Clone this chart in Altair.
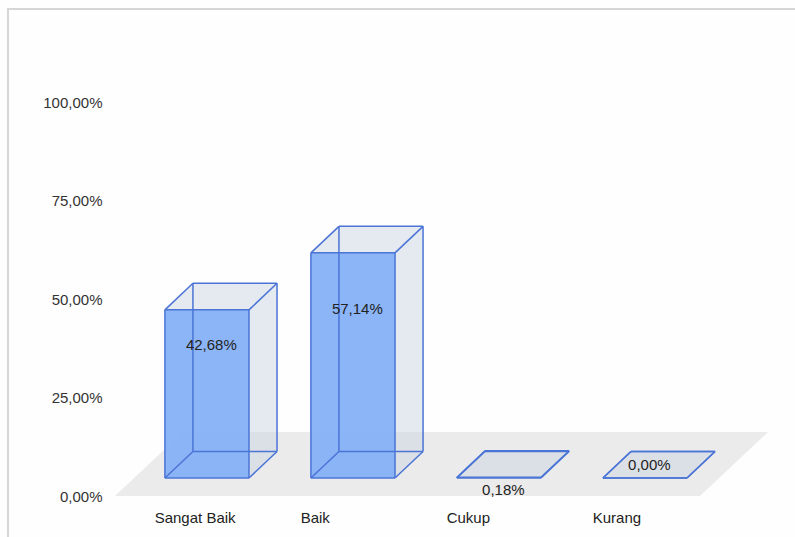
import altair as alt
import pandas as pd

# ---- data ----
categories = ["Sangat Baik", "Baik", "Cukup", "Kurang"]
values = [42.68, 57.14, 0.18, 0.00]
value_labels = ["42,68%", "57,14%", "0,18%", "0,00%"]
y_ticks = [0, 25, 50, 75, 100]

# ---- 3D styling geometry (category units / percent units) ----
HW = 0.288      # half width of a bar face
DX = 0.192      # depth offset in x
DY = 6.73       # depth offset in y
FLOOR_L, FLOOR_R = -0.63, 3.377
FLOOR_Y0, FLOOR_Y1 = -4.57, 11.68
FLOOR_DX = 0.466

idx = list(range(len(categories)))

front = pd.DataFrame({"cat": categories, "i": idx, "v": values})
front["L"] = front.i - HW
front["R"] = front.i + HW

top_rows, side_rows, edge_rows = [], [], []
for c, i, v in zip(categories, idx, values):
    L, R = i - HW, i + HW
    top_rows += [{"cat": c, "y": v, "xl": L, "xr": R},
                 {"cat": c, "y": v + DY, "xl": L + DX, "xr": R + DX}]
    side_rows += [{"cat": c, "x": R, "y0": 0, "y1": v},
                  {"cat": c, "x": R + DX, "y0": DY, "y1": v + DY}]
    corners = {
        "fbl": (L, 0), "fbr": (R, 0), "ftl": (L, v), "ftr": (R, v),
        "bbl": (L + DX, DY), "bbr": (R + DX, DY),
        "btl": (L + DX, v + DY), "btr": (R + DX, v + DY),
    }
    pairs = [("fbl", "fbr"), ("fbr", "ftr"), ("ftr", "ftl"), ("ftl", "fbl"),
             ("bbl", "bbr"), ("bbr", "btr"), ("btr", "btl"), ("btl", "bbl"),
             ("fbl", "bbl"), ("fbr", "bbr"), ("ftl", "btl"), ("ftr", "btr")]
    for a, b in pairs:
        edge_rows.append({"cat": c, "x": corners[a][0], "y": corners[a][1],
                          "x2": corners[b][0], "y2": corners[b][1]})

top = pd.DataFrame(top_rows)
side = pd.DataFrame(side_rows)
edges = pd.DataFrame(edge_rows)

floor = pd.DataFrame({
    "y": [FLOOR_Y0, FLOOR_Y1],
    "xl": [FLOOR_L, FLOOR_L + FLOOR_DX],
    "xr": [FLOOR_R, FLOOR_R + FLOOR_DX],
})


def label_y(v):
    if v > 1:
        return 0.629 * v + 6.96
    if v > 0:
        return -3.0
    return DY / 2


labels = pd.DataFrame({
    "i": [i + 0.03 for i in idx],
    "ly": [label_y(v) for v in values],
    "text": value_labels,
})
xlabels = pd.DataFrame({"x": [i - HW - 0.07 for i in idx], "text": categories})

FONT = "Liberation Sans"
xs = alt.Scale(domain=[-0.664, 3.959], nice=False, zero=False)
ys = alt.Scale(domain=[0, 100], nice=False, zero=False)
yaxis = alt.Axis(
    values=y_ticks,
    labelExpr="replace(format(datum.value, '.2f'), '.', ',') + '%'",
    ticks=False, domain=False, grid=False, title=None,
    labelPadding=8, labelOffset=18, labelFlush=False,
    labelFontSize=15, labelFont=FONT, labelColor="#333333",
    zindex=2,
)

frame = alt.Chart(pd.DataFrame({"a": [0]})).mark_rect(
    fillOpacity=0, stroke="#d6d6d6", strokeWidth=2
).encode(x=alt.value(-102), x2=alt.value(720), y=alt.value(-75), y2=alt.value(480))

floor_layer = alt.Chart(floor).mark_area(orient="horizontal", color="#ebebeb").encode(
    y=alt.Y("y:Q", scale=ys, axis=yaxis),
    x=alt.X("xl:Q", scale=xs, axis=None),
    x2="xr:Q",
)

side_layer = alt.Chart(side).mark_area(
    orient="vertical", color="#c8d0e0", opacity=0.45
).encode(
    x=alt.X("x:Q", scale=xs, axis=None),
    y=alt.Y("y0:Q", scale=ys, axis=yaxis),
    y2="y1:Q",
    detail="cat:N",
)

front_layer = alt.Chart(front).mark_rect(color="#86b1f7", opacity=0.95).encode(
    x=alt.X("L:Q", scale=xs, axis=None),
    x2="R:Q",
    y=alt.Y("v:Q", scale=ys, axis=yaxis),
    y2=alt.datum(0),
)

top_layer = alt.Chart(top).mark_area(
    orient="horizontal", color="#c8d0e0", opacity=0.45
).encode(
    y=alt.Y("y:Q", scale=ys, axis=yaxis),
    x=alt.X("xl:Q", scale=xs, axis=None),
    x2="xr:Q",
    detail="cat:N",
)

edge_layer = alt.Chart(edges).mark_rule(color="#4a74d6", strokeWidth=1.5).encode(
    x=alt.X("x:Q", scale=xs, axis=None),
    x2="x2:Q",
    y=alt.Y("y:Q", scale=ys, axis=yaxis),
    y2="y2:Q",
)

label_layer = alt.Chart(labels).mark_text(
    fontSize=15, font=FONT, color="#222222", align="center", baseline="middle"
).encode(
    x=alt.X("i:Q", scale=xs, axis=None),
    y=alt.Y("ly:Q", scale=ys, axis=yaxis),
    text="text:N",
)

xlabel_layer = alt.Chart(xlabels).mark_text(
    fontSize=15, font=FONT, color="#222222", align="left", baseline="middle"
).encode(
    x=alt.X("x:Q", scale=xs, axis=None),
    y=alt.value(434),
    text="text:N",
)

chart = alt.layer(
    frame, floor_layer, side_layer, front_layer, top_layer, edge_layer,
    label_layer, xlabel_layer,
).properties(
    width=675, height=394,
    padding={"left": 110, "top": 84, "right": 10, "bottom": 59},
    autosize=alt.AutoSizeParams(type="none"),
    background="#fefefe",
).configure_view(stroke=None)

chart.save("out.html", embed_options={"renderer": "svg", "actions": False})
